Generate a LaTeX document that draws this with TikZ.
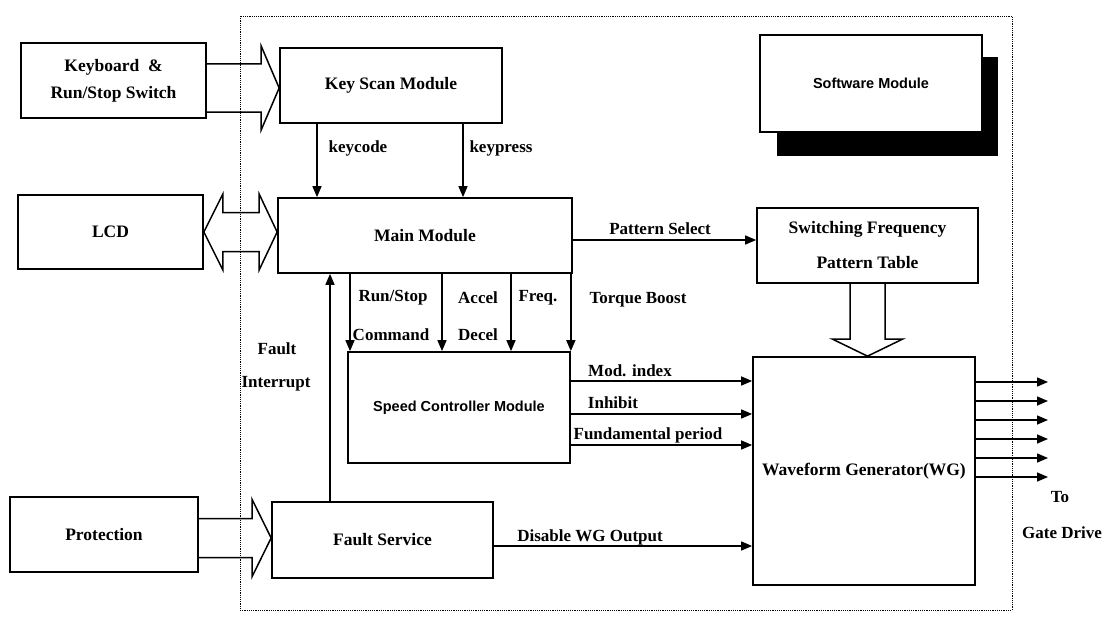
\documentclass[tikz,border=0pt]{standalone}
\usepackage{fontspec}
\setmainfont{Liberation Serif}
\setsansfont{Liberation Sans}
\usetikzlibrary{arrows.meta,calc,backgrounds}
\newcommand\hollowright[5]{%
  \draw[hollow] let \p1=(#1),\p2=(#2) in
   (\x1,{\y2+#3pt}) -- ({\x2-#5pt},{\y2+#3pt}) -- ({\x2-#5pt},{\y2+#4pt}) -- (\x2,\y2)
   -- ({\x2-#5pt},{\y2-#4pt}) -- ({\x2-#5pt},{\y2-#3pt}) -- (\x1,{\y2-#3pt});}
\begin{document}
\begin{tikzpicture}[x=1pt,y=-1pt,
  box/.style={draw,line width=1.7pt,fill=white,inner sep=2pt,align=center,
    font=\fontsize{17.5}{27}\selectfont\bfseries},
  sbox/.style={box,font=\fontsize{14.5}{18}\selectfont\sffamily\bfseries},
  lbl/.style={font=\fontsize{17}{20}\selectfont\bfseries,inner sep=0pt},
  arr/.style={line width=1.5pt,-{Triangle[length=11pt,width=9pt]}},
  hollow/.style={line width=1.5pt,line join=miter}]
\useasboundingbox (0,0) rectangle (1109,626);

% software boundary
\draw[line width=0.8pt,dash pattern=on 1.2pt off 1pt] (240,16) rectangle (1012,610);

% boxes
\node[box,minimum width=185,minimum height=75] (kb) at (113.5,80.5) {Keyboard\ \ \&\\Run/Stop Switch};
\node[box,minimum width=222,minimum height=75] (ks) at (391,85.5) {Key Scan Module};
\node[box,minimum width=185,minimum height=74] (lcd) at (110.5,232) {LCD};
\node[box,minimum width=294,minimum height=75] (main) at (425,235.5) {Main Module};
\node[box,minimum width=188,minimum height=75] (prot) at (104,534.5) {Protection};
\node[box,minimum width=221,minimum height=76] (fs) at (382.5,540) {Fault Service};
\node[sbox,minimum width=222,minimum height=111] (sc) at (459,407.5) {Speed Controller Module};
\node[sbox,minimum width=222,minimum height=97] (sw) at (871,83.5) {Software Module};
\node[box,minimum width=221,minimum height=75] (sf) at (867.5,245.5) {Switching Frequency\\[8pt]Pattern Table};
\node[box,minimum width=222,minimum height=228] (wg) at (864,471) {Waveform Generator(WG)};

% shadow of the legend box
\begin{scope}[on background layer]
  \fill ($(sw.north west)+(18,23)$) rectangle ($(sw.south east)+(15,23)$);
\end{scope}

% hollow (bus) arrows
\hollowright{kb.east}{ks.west |- 0,88}{24}{42}{18}
\hollowright{prot.east}{fs.west |- 0,538}{19.5}{38.5}{19}
\draw[hollow] let \p1=(lcd.east),\p2=(main.west) in
  (\x1,\y1) -- ({\x1+19pt},{\y1+38pt}) -- ({\x1+19pt},{\y1+19.5pt}) -- ({\x2-18pt},{\y1+19.5pt})
  -- ({\x2-18pt},{\y1+38pt}) -- (\x2,\y1) -- ({\x2-18pt},{\y1-38pt}) -- ({\x2-18pt},{\y1-19.5pt})
  -- ({\x1+19pt},{\y1-19.5pt}) -- ({\x1+19pt},{\y1-38pt}) -- cycle;
\draw[hollow] let \p1=(sf.south),\p2=(wg.north) in
  ({\x1-17.5pt},\y1) -- ({\x1-17.5pt},{\y2+17pt}) -- ({\x1-35pt},{\y2+17pt}) -- (\x1,\y2)
  -- ({\x1+35pt},{\y2+17pt}) -- ({\x1+17.5pt},{\y2+17pt}) -- ({\x1+17.5pt},\y1);

% signal arrows
\draw[arr] (317,0 |- ks.south) -- (317,0 |- main.north);
\draw[arr] (463,0 |- ks.south) -- (463,0 |- main.north);
\draw[arr] (main.east |- 0,240) -- (sf.west |- 0,240);
\draw[arr] (350,0 |- main.south) -- (350,0 |- sc.north);
\draw[arr] (442,0 |- main.south) -- (442,0 |- sc.north);
\draw[arr] (511,0 |- main.south) -- (511,0 |- sc.north);
\draw[arr] (sc.east |- main.south) -- (sc.north east);
\draw[arr] (330,0 |- fs.north) -- (330,0 |- main.south);
\draw[arr] (sc.east |- 0,381) -- (wg.west |- 0,381);
\draw[arr] (sc.east |- 0,414) -- (wg.west |- 0,414);
\draw[arr] (sc.east |- 0,445) -- (wg.west |- 0,445);
\draw[arr] (fs.east |- 0,546) -- (wg.west |- 0,546);
\foreach \yy/\nm in {382/o1,401/o2,420/o3,439/o4,458/o5,477/o6}{
  \coordinate (\nm) at (1048,\yy);
  \draw[arr] (wg.east |- \nm) -- (\nm);
}

% labels
\node[lbl] (lkc) at (358,148) {keycode};
\node[lbl] (lkp) at (501,148) {keypress};
\node[lbl] (lps) at (660,229) {Pattern Select};
\node[lbl] (lrs) at (393,298) {Run/Stop};
\node[lbl] (lcm) at (391,335) {Command};
\node[lbl] (lac) at (478,298) {Accel};
\node[lbl] (lde) at (478,335) {Decel};
\node[lbl] (lfr) at (538,298) {Freq.};
\node[lbl] (ltb) at (638,300) {Torque Boost};
\node[lbl] (lfa) at (277,349) {Fault};
\node[lbl] (lin) at (276,384) {Interrupt};
\node[lbl] (lmi) at (630,371) {Mod. index};
\node[lbl] (lih) at (613,403) {Inhibit};
\node[lbl] (lfp) at (648,435) {Fundamental period};
\node[lbl] (ldw) at (590,537) {Disable WG Output};
\node[lbl] (lto) at (1060,497) {To};
\node[lbl] (lgd) at (1062,533) {Gate Drive};
\end{tikzpicture}
\end{document}
